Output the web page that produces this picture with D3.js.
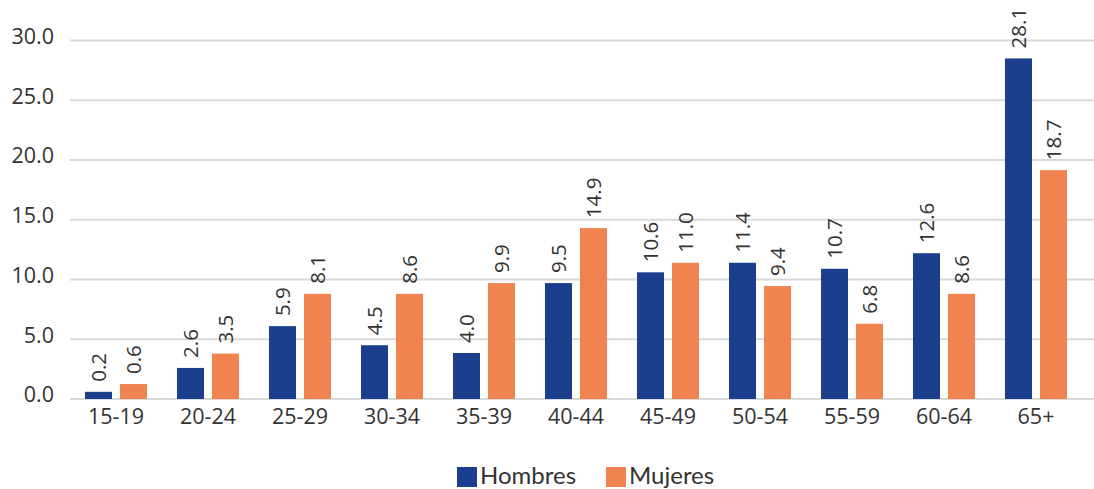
<!DOCTYPE html>
<html><head><meta charset="utf-8">
<script src="https://cdn.jsdelivr.net/npm/d3@7"></script>
<style>body{margin:0;background:#fff}svg{display:block}</style>
</head><body>
<script>
const categories = ["15-19","20-24","25-29","30-34","35-39","40-44","45-49","50-54","55-59","60-64","65+"];
const series = ["Hombres","Mujeres"];
// bar heights as drawn in the picture
const hombres = [0.6, 2.6, 6.1, 4.5, 3.85, 9.7, 10.6, 11.4, 10.9, 12.2, 28.5];
const mujeres = [1.25, 3.8, 8.8, 8.8, 9.7, 14.3, 11.4, 9.45, 6.3, 8.8, 19.15];
// data label texts as printed
const hombresLabels = ["0.2","2.6","5.9","4.5","4.0","9.5","10.6","11.4","10.7","12.6","28.1"];
const mujeresLabels = ["0.6","3.5","8.1","8.6","9.9","14.9","11.0","9.4","6.8","8.6","18.7"];
const yTicks = [0,5,10,15,20,25,30];
const colors = ["#1B3F8E","#F0834F"];

const W=1094,H=489;
const svg=d3.select("body").append("svg").attr("width",W).attr("height",H);
const x=d3.scaleBand().domain(categories).range([70,1082]).paddingInner(0).paddingOuter(0);
const x1=d3.scaleBand().domain(series).range([15,77]).paddingInner(8/35).paddingOuter(0);
const y=d3.scaleLinear().domain([0,30]).range([399,40.5]);

// gridlines
svg.append("g").selectAll("line").data(yTicks).join("line")
 .attr("x1",70).attr("x2",W).attr("y1",d=>y(d)).attr("y2",d=>y(d))
 .attr("stroke","#d9d9d9").attr("stroke-width",2);

// y axis labels
const yAxis=d3.axisLeft(y).tickValues(yTicks).tickFormat(d3.format(".1f")).tickSize(0).tickPadding(0);
const ya=svg.append("g").attr("transform","translate(54,-4)").call(yAxis);
ya.select(".domain").remove();
ya.selectAll("text").attr("font-family","Open Sans").attr("font-size",21.5).attr("fill","#333");

// x axis labels
const xAxis=d3.axisBottom(x).tickSize(0).tickPadding(0);
const xa=svg.append("g").attr("transform","translate(0,409)").call(xAxis);
xa.select(".domain").remove();
xa.selectAll("text").attr("font-family","Open Sans").attr("font-size",21.5).attr("fill","#333");

const data=[hombres,mujeres], labels=[hombresLabels,mujeresLabels];
series.forEach((s,si)=>{
  const g=svg.append("g");
  g.selectAll("rect").data(categories).join("rect")
   .attr("x",c=>x(c)+x1(s)).attr("width",x1.bandwidth())
   .attr("y",(c,i)=>y(data[si][i])).attr("height",(c,i)=>y(0)-y(data[si][i]))
   .attr("fill",colors[si]);
  g.selectAll("text").data(categories).join("text")
   .attr("transform",(c,i)=>`translate(${x(c)+x1(s)+x1.bandwidth()/2+7.5},${y(data[si][i])-10}) rotate(-90)`)
   .attr("font-family","Open Sans").attr("font-size",20.5).attr("fill","#333")
   .text((c,i)=>labels[si][i]);
});

// legend
const leg=svg.append("g");
const lx=[457,606];
series.forEach((s,i)=>{
  leg.append("rect").attr("x",lx[i]).attr("y",467).attr("width",20).attr("height",20).attr("fill",colors[i]);
  leg.append("text").attr("x",lx[i]+23).attr("y",484).attr("font-family","Lato").attr("font-size",24).attr("fill","#333").text(s);
});
</script>
</body></html>
